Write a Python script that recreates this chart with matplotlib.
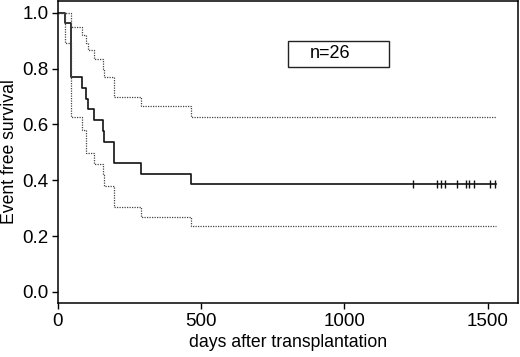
import numpy as np
import matplotlib
matplotlib.use('Agg')
import matplotlib.pyplot as plt
from matplotlib.patches import Rectangle

plt.rcParams['font.family'] = ['Liberation Sans', 'DejaVu Sans']

# Kaplan-Meier estimate (event times in days) with pointwise CI
times = [0, 24, 45, 83, 98, 104, 126, 156, 161, 196, 290, 465, 1530]
surv = [1.0, 0.962, 0.769, 0.731, 0.692, 0.654, 0.615, 0.577, 0.538, 0.462, 0.423, 0.385, 0.385]
upper = [1.0, 1.0, 0.949, 0.922, 0.89, 0.866, 0.836, 0.80, 0.769, 0.70, 0.667, 0.627, 0.627]
lower = [1.0, 0.89, 0.625, 0.58, 0.496, 0.496, 0.457, 0.418, 0.379, 0.305, 0.269, 0.237, 0.237]
censored = [1241, 1324, 1338, 1353, 1395, 1424, 1437, 1451, 1509, 1526]

fig = plt.figure(figsize=(5.2, 3.57), dpi=100)
ax = fig.add_axes([0.1115, 0.151, 0.885, 0.846])

ax.step(times, surv, where='post', color='#111111', lw=1.2)
ax.step(times, upper, where='post', color='#444444', lw=0.9, ls=(0, (1, 1)))
ax.step(times, lower, where='post', color='#444444', lw=0.9, ls=(0, (1, 1)))
ax.plot(censored, [surv[-1]] * len(censored), ls='none', marker='|',
        ms=6, mew=1.0, color='#111111')

ax.set_xlim(0, 1607)
ax.set_ylim(-0.04, 1.042)
ax.set_xticks([0, 500, 1000, 1500])
ax.set_yticks([0.0, 0.2, 0.4, 0.6, 0.8, 1.0])
ax.set_yticklabels(['0.0', '0.2', '0.4', '0.6', '0.8', '1.0'])
ax.tick_params(direction='out', length=4, width=1, labelsize=13.5, pad=3)
for s in ax.spines.values():
    s.set_linewidth(1.1)

ax.set_xlabel('days after transplantation', fontsize=12.7, labelpad=3)
ax.set_ylabel('Event free survival', fontsize=12.7, labelpad=3)

# n box
ax.add_patch(Rectangle((0.5, 0.781), 0.22, 0.087, transform=ax.transAxes,
                       fc='white', ec='#222222', lw=1.0))
ax.text(0.591, 0.825, 'n=26', transform=ax.transAxes, ha='center', va='center',
        fontsize=13)

fig.savefig('out.png', dpi=100)
